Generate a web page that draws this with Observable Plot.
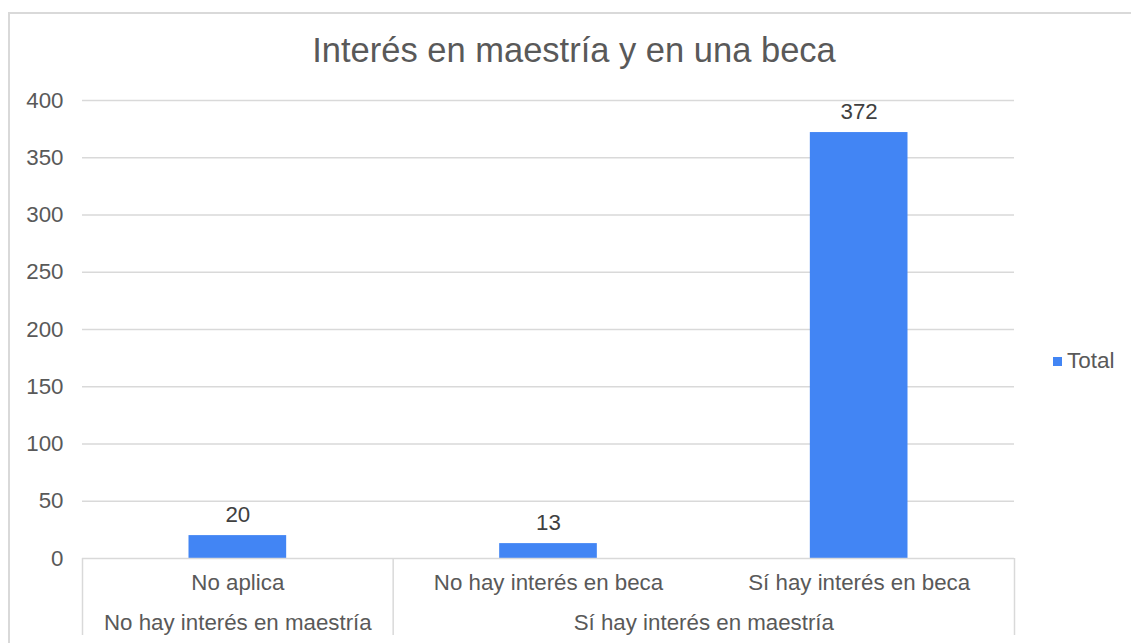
<!DOCTYPE html>
<html>
<head>
<meta charset="utf-8">
<script src="https://cdn.jsdelivr.net/npm/d3@7"></script>
<script src="https://cdn.jsdelivr.net/npm/@observablehq/plot@0.6"></script>
<style>
  html, body { margin: 0; padding: 0; background: #fff; overflow: hidden; }
  body { width: 1131px; height: 643px; position: relative; font-family: "Liberation Sans", Arial, sans-serif; }
  #frame { position: absolute; left: 8px; top: 12px; width: 1140px; height: 700px; border: 2px solid #d9d9d9; box-sizing: border-box; }
  #title { position: absolute; left: 574px; top: 29px; transform: translateX(-50%); white-space: nowrap; font-size: 34.5px; color: #595959; line-height: 42px; }
  #chart { position: absolute; left: 0; top: 0; }
  #legend { position: absolute; left: 1053px; top: 347px; display: flex; align-items: center; font-size: 22.5px; color: #595959; line-height: 28px; }
  #legend .sw { width: 9px; height: 9px; margin-right: 5px; }
</style>
</head>
<body>
<div id="frame"></div>
<div id="title"></div>
<div id="chart"></div>
<div id="legend"></div>
<script>
const title = "Interés en maestría y en una beca";
const categories = ["No aplica", "No hay interés en beca", "Sí hay interés en beca"];
const groupOfCategory = ["No hay interés en maestría", "Sí hay interés en maestría", "Sí hay interés en maestría"];
const totals = [20, 13, 372];
const yTicks = [0, 50, 100, 150, 200, 250, 300, 350, 400];
const seriesName = "Total";
const barColor = "#4285f4";

const data = categories.map((c, i) => ({i, category: c, group: groupOfCategory[i], value: totals[i]}));

// group spans derived from category groups
const groups = [];
groupOfCategory.forEach((g, i) => {
  const last = groups[groups.length - 1];
  if (last && last.name === g) last.end = i + 1;
  else groups.push({name: g, start: i, end: i + 1});
});
const boundaries = [0, ...groups.map(g => g.end)];

document.getElementById("title").textContent = title;
document.getElementById("legend").innerHTML =
  `<div class="sw" style="background:${barColor}"></div><span>${seriesName}</span>`;

const font = "'Liberation Sans', Arial, sans-serif";
const fs = 22.3;
const chart = Plot.plot({
  width: 1131,
  height: 643,
  marginLeft: 82,
  marginRight: 117,
  marginTop: 100,
  marginBottom: 85,
  style: {fontFamily: font, fontSize: fs + "px", color: "#595959", background: "transparent", overflow: "visible"},
  x: {type: "linear", domain: [0, categories.length], label: null},
  y: {domain: [0, 400], label: null},
  marks: [
    Plot.gridY({ticks: yTicks.filter(t => t > 0), stroke: "#d9d9d9", strokeOpacity: 1, strokeWidth: 1.5}),
    Plot.axisY({ticks: yTicks, tickSize: 0, tickPadding: 19, fontSize: fs, fill: "#595959", label: null}),
    Plot.rectY(data, {x1: d => d.i, x2: d => d.i + 1, y: "value", fill: barColor, insetLeft: 106.5, insetRight: 106.5}),
    Plot.ruleY([0], {stroke: "#d9d9d9", strokeWidth: 1.5}),
    Plot.axisX({ticks: boundaries, tickSize: 77, tickFormat: () => "", stroke: "#d9d9d9", strokeWidth: 1.5, strokeOpacity: 1, label: null}),
    Plot.axisX({ticks: data.map(d => d.i + 0.5), tickSize: 0, tickPadding: 16, fontSize: fs, fill: "#595959", label: null,
      tickFormat: t => categories[Math.floor(t)]}),
    Plot.axisX({ticks: groups.map(g => (g.start + g.end) / 2), tickSize: 0, tickPadding: 56, fontSize: fs, fill: "#595959", label: null,
      tickFormat: t => groups.find(g => (g.start + g.end) / 2 === t).name}),
    Plot.text(data, {x: d => d.i + 0.5, y: "value", text: d => String(d.value), dy: -21, fontSize: fs, fill: "#404040"})
  ]
});
document.getElementById("chart").appendChild(chart);
</script>
</body>
</html>
